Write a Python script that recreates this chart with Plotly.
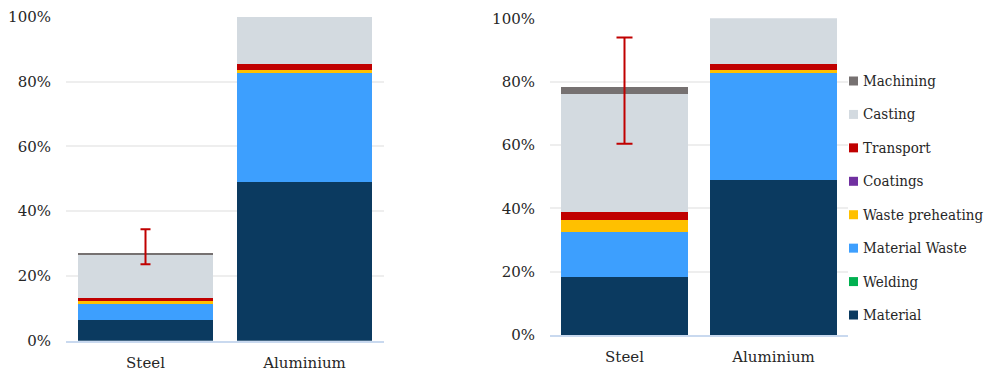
import plotly.graph_objects as go

categories = ["Steel", "Aluminium"]
stages = ["Material", "Welding", "Material Waste", "Waste preheating",
          "Coatings", "Transport", "Casting", "Machining"]
colors = ["#0b3a60", "#00b050", "#3d9ffe", "#ffc000",
          "#7030a0", "#c00000", "#d3dae0", "#767171"]

# left chart values (% share), per stage: [Steel, Aluminium]
left_material = [6.4, 49.0]
left_welding = [0.0, 0.0]
left_mat_waste = [4.8, 33.5]
left_preheat = [1.05, 1.0]
left_coatings = [0.0, 0.0]
left_transport = [1.05, 1.8]
left_casting = [13.4, 14.7]
left_machining = [0.4, 0.0]

# right chart values
right_material = [18.2, 48.8]
right_welding = [0.0, 0.0]
right_mat_waste = [14.4, 33.8]
right_preheat = [3.8, 1.0]
right_coatings = [0.0, 0.0]
right_transport = [2.3, 1.9]
right_casting = [37.5, 14.5]
right_machining = [2.1, 0.0]

# error ranges for Steel (low, high)
left_err_low, left_err_high = 23.6, 34.4
right_err_low, right_err_high = 60.4, 93.9

left_series = [left_material, left_welding, left_mat_waste, left_preheat,
               left_coatings, left_transport, left_casting, left_machining]
right_series = [right_material, right_welding, right_mat_waste, right_preheat,
                right_coatings, right_transport, right_casting, right_machining]

FONT = "DejaVu Serif"
LEG_FONT = "DejaVu Serif Condensed"
FS = 15
TXT = "#262626"
W, H = 989, 373

fig = go.Figure()
for name, col, lv, rv in zip(stages, colors, left_series, right_series):
    fig.add_trace(go.Bar(x=categories, y=lv, name=name, marker_color=col,
                         marker_line_width=0, xaxis="x", yaxis="y", showlegend=False))
    fig.add_trace(go.Bar(x=categories, y=rv, name=name, marker_color=col,
                         marker_line_width=0, xaxis="x2", yaxis="y2", showlegend=False))

left_total = sum(s[0] for s in left_series)
right_total = sum(s[0] for s in right_series)
fig.add_trace(go.Scatter(
    x=["Steel"], y=[left_total], mode="markers", marker=dict(opacity=0),
    error_y=dict(type="data", symmetric=False, array=[left_err_high - left_total],
                 arrayminus=[left_total - left_err_low], color="#c00000",
                 thickness=2, width=5),
    xaxis="x", yaxis="y", showlegend=False, hoverinfo="skip"))
fig.add_trace(go.Scatter(
    x=["Steel"], y=[right_total], mode="markers", marker=dict(opacity=0),
    error_y=dict(type="data", symmetric=False, array=[right_err_high - right_total],
                 arrayminus=[right_total - right_err_low], color="#c00000",
                 thickness=2, width=8),
    xaxis="x2", yaxis="y2", showlegend=False, hoverinfo="skip"))

yax_common = dict(range=[0, 100], tickvals=[0, 20, 40, 60, 80, 100],
                  ticktext=["0%", "20%", "40%", "60%", "80%", "100%"],
                  showgrid=True, gridcolor="#eeeeee", gridwidth=1.5,
                  zeroline=False, showline=False, ticks="", automargin=False,
                  tickfont=dict(family=FONT, size=FS, color=TXT),
                  ticklabelstandoff=14, fixedrange=True)
xax_common = dict(showgrid=False, zeroline=False, showline=True,
                  linecolor="#c9d9ef", linewidth=2, ticks="", automargin=False,
                  tickfont=dict(family=FONT, size=FS, color=TXT),
                  ticklabelstandoff=7, fixedrange=True)

fig.update_layout(
    width=W, height=H,
    margin=dict(l=0, r=0, t=0, b=0, autoexpand=False),
    paper_bgcolor="white", plot_bgcolor="white",
    barmode="stack", bargap=0.145,
    xaxis=dict(domain=[66 / W, 384 / W], anchor="y", **xax_common),
    yaxis=dict(domain=[1 - 340.7 / H, 1 - 16.7 / H], anchor="x", **yax_common),
    xaxis2=dict(domain=[550 / W, 848 / W], anchor="y2", **xax_common),
    yaxis2=dict(domain=[1 - 335 / H, 1 - 18.3 / H], anchor="x2", **yax_common),
)

# legend (drawn beside right chart, top entry = last stage)
leg_top, leg_step = 81, 33.43
for i, (name, col) in enumerate(zip(stages[::-1], colors[::-1])):
    yc = leg_top + i * leg_step
    fig.add_shape(type="rect", xref="paper", yref="paper",
                  x0=849 / W, x1=858 / W, y0=1 - (yc + 4.5) / H, y1=1 - (yc - 4.5) / H,
                  fillcolor=col, line_width=0)
    fig.add_annotation(xref="paper", yref="paper", x=861 / W, y=1 - yc / H,
                       xanchor="left", yanchor="middle", showarrow=False,
                       text=name, font=dict(family=LEG_FONT, size=FS, color=TXT))

fig.write_html("out.html")
